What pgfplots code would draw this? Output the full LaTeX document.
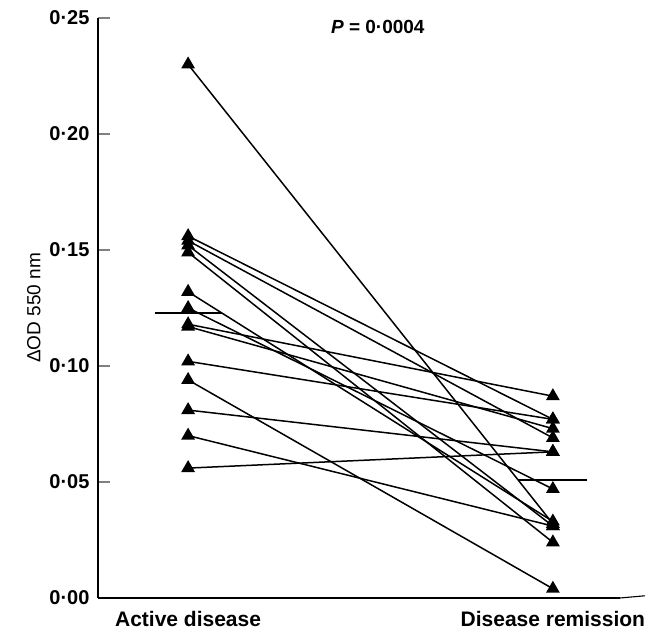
\documentclass[border=0pt]{standalone}
\usepackage{fontspec}
\setmainfont{Liberation Sans}
\usepackage{pgfplots}
\pgfplotsset{compat=1.18}
\pgfplotsset{pair/.style={black, solid, line width=1.5pt, mark=triangle*, mark size=6.5pt, mark options={solid, fill=black}}}

\begin{document}
\begin{tikzpicture}
\begin{axis}[
  scale only axis,
  width=522pt, height=580pt,
  at={(0,0)}, anchor=south west,
  xmin=-0.247, xmax=1.184,
  ymin=0, ymax=0.25,
  axis x line=bottom, axis y line=left,
  axis line style={-, line width=1.1pt},
  xtick={0,1},
  xticklabels={Active disease, Disease remission},
  x tick style={draw=none},
  x tick label style={font=\fontsize{21}{24}\selectfont\bfseries, yshift=-4pt},
  ytick={0,0.05,0.10,0.15,0.20,0.25},
  yticklabels={0·00,0·05,0·10,0·15,0·20,0·25},
  y tick label style={font=\fontsize{20}{22}\selectfont\bfseries, xshift=-5pt},
  ytick align=inside,
  major tick length=12pt,
  y tick style={line width=1.1pt},
  ylabel={ΔOD 550 nm},
  ylabel style={font=\fontsize{19}{22}\selectfont, yshift=2pt},
  clip=false,
]
% paired measurements: active disease -> remission
\addplot[pair] coordinates {(0,0.230) (1,0.032)};
\addplot[pair] coordinates {(0,0.156) (1,0.077)};
\addplot[pair] coordinates {(0,0.154) (1,0.069)};
\addplot[pair] coordinates {(0,0.152) (1,0.031)};
\addplot[pair] coordinates {(0,0.149) (1,0.024)};
\addplot[pair] coordinates {(0,0.132) (1,0.033)};
\addplot[pair] coordinates {(0,0.125) (1,0.047)};
\addplot[pair] coordinates {(0,0.118) (1,0.087)};
\addplot[pair] coordinates {(0,0.117) (1,0.073)};
\addplot[pair] coordinates {(0,0.102) (1,0.077)};
\addplot[pair] coordinates {(0,0.094) (1,0.004)};
\addplot[pair] coordinates {(0,0.081) (1,0.063)};
\addplot[pair] coordinates {(0,0.070) (1,0.031)};
\addplot[pair] coordinates {(0,0.056) (1,0.063)};
% medians
\addplot[black, no marks, line width=2pt] coordinates {(-0.092,0.123) (0.093,0.123)};
\addplot[black, no marks, line width=2pt] coordinates {(0.904,0.051) (1.093,0.051)};
\node[font=\fontsize{19}{22}\selectfont\bfseries] at (axis cs:0.52,0.246) {\textit{P} = 0·0004};
\draw[line width=1.1pt] (axis cs:1.184,0) -- ++(0,8pt);
\end{axis}
\pgfresetboundingbox
\useasboundingbox (-98pt,-32pt) rectangle (547pt,598pt);
\end{tikzpicture}
\end{document}
